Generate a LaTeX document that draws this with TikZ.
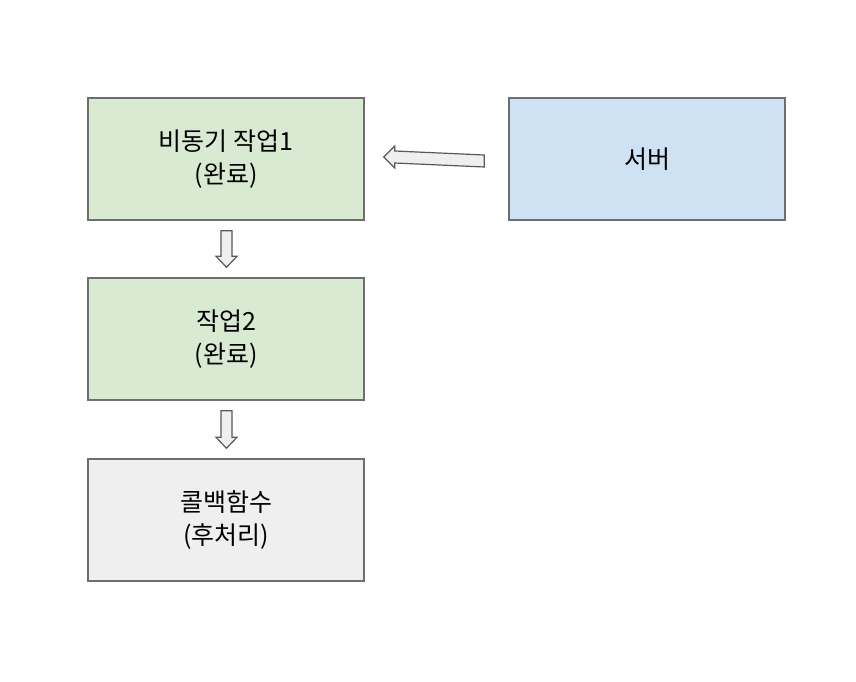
\documentclass[tikz,border=0pt]{standalone}
\usepackage{fontspec}
\setmainfont{Noto Sans CJK KR}
\usetikzlibrary{calc}

\definecolor{jobgreen}{HTML}{D9EAD3}
\definecolor{srvblue}{HTML}{CFE2F3}
\definecolor{cbgrey}{HTML}{EFEFEF}
\definecolor{edgegrey}{HTML}{6E6E6E}
\definecolor{arrowgrey}{HTML}{595959}

\tikzset{
  taskbox/.style={draw=edgegrey,line width=1.4pt,minimum width=276pt,minimum height=122pt,
    align=center,font=\fontsize{25}{33}\selectfont,inner sep=0pt},
  hollowarrow/.style={draw=arrowgrey,fill=cbgrey,line width=1.2pt,line join=miter}
}

\begin{document}
\begin{tikzpicture}[x=1pt,y=-1pt]
\useasboundingbox[fill=white] (0,0) rectangle (856,682);
\node[taskbox,fill=jobgreen] (job1) at (226,159) {비동기 작업1\\(완료)};
\node[taskbox,fill=jobgreen] (job2) at (226,339) {작업2\\(완료)};
\node[taskbox,fill=cbgrey] (callback) at (226,520) {콜백함수\\(후처리)};
\node[taskbox,fill=srvblue] (server) at (647,159) {서버};
% block arrows
\coordinate (srvtail) at ($(server.west)+(-24,2)$);
\coordinate (jobtip) at ($(job1.east)+(19,-2)$);
\draw[hollowarrow] ($(srvtail)+(0,-6)$) -- ($(srvtail)+(0,6)$) -- ($(jobtip)+(11,6)$)
  -- ($(jobtip)+(11,11)$) -- (jobtip) -- ($(jobtip)+(11,-11)$) -- ($(jobtip)+(11,-6)$) -- cycle;
\foreach \a/\b in {job1/job2,job2/callback}{
  \coordinate (top) at ($(\a.south)+(0.5,10)$);
  \coordinate (tip) at ($(\b.north)+(0.5,-10)$);
  \draw[hollowarrow] ($(top)+(-5.5,0)$) -- ($(top)+(5.5,0)$) -- ($(tip)+(5.5,-11)$)
    -- ($(tip)+(10.5,-11)$) -- (tip) -- ($(tip)+(-10.5,-11)$) -- ($(tip)+(-5.5,-11)$) -- cycle;
}
\end{tikzpicture}
\end{document}
